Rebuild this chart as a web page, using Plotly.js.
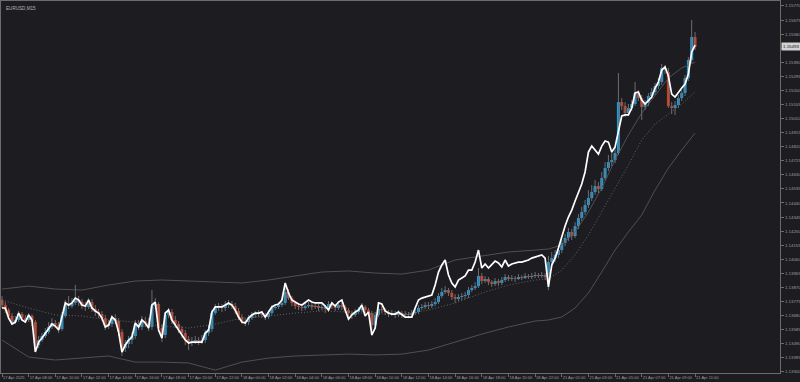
<!DOCTYPE html>
<html><head><meta charset="utf-8">
<script src="https://cdn.plot.ly/plotly-3.0.1.min.js"></script>
<style>html,body{margin:0;padding:0;background:#1c1c21;}#chart{width:800px;height:382px;}</style>
</head><body><div id="chart"></div>
<script>
const symbolTitle = "EURUSD,M15";
const tickPos = [0,8,16,24,32,40,48,56,64,72,80,88,96,104,112,120,128,136,144,152,160,168,176,184,192,200,208];
const tickLabels = ["17 Apr 2025","17 Apr 08:00","17 Apr 10:00","17 Apr 12:00","17 Apr 14:00","17 Apr 16:00","17 Apr 18:00","17 Apr 20:00","17 Apr 22:00","18 Apr 00:00","18 Apr 02:00","18 Apr 04:00","18 Apr 06:00","18 Apr 08:00","18 Apr 10:00","18 Apr 12:00","18 Apr 14:00","18 Apr 16:00","18 Apr 18:00","18 Apr 20:00","18 Apr 22:00","21 Apr 01:00","21 Apr 03:00","21 Apr 05:00","21 Apr 07:00","21 Apr 09:00","21 Apr 11:00"];
const priceTicks = [1.13300,1.13395,1.13490,1.13585,1.13680,1.13775,1.13870,1.13965,1.14060,1.14155,1.14250,1.14345,1.14440,1.14535,1.14630,1.14725,1.14820,1.14915,1.15010,1.15105,1.15200,1.15295,1.15390,1.15485,1.15580,1.15675,1.15770];

const barOpen = [
1.13785,1.13751,1.13717,1.13677,1.13636,1.13650,1.13690,1.13663,1.13650,1.13677,
1.13636,1.13481,1.13515,1.13542,1.13569,1.13603,1.13630,1.13616,1.13589,1.13677,
1.13751,1.13744,1.13765,1.13785,1.13771,1.13744,1.13738,1.13771,1.13724,1.13704,
1.13690,1.13663,1.13609,1.13623,1.13663,1.13643,1.13569,1.13461,1.13488,1.13515,
1.13542,1.13623,1.13603,1.13643,1.13630,1.13603,1.13744,1.13758,1.13596,1.13549,
1.13684,1.13704,1.13650,1.13623,1.13589,1.13562,1.13522,1.13501,1.13508,1.13515,
1.13508,1.13515,1.13562,1.13589,1.13697,1.13731,1.13738,1.13731,1.13751,1.13758,
1.13744,1.13711,1.13670,1.13643,1.13636,1.13663,1.13684,1.13690,1.13697,1.13684,
1.13670,1.13697,1.13731,1.13738,1.13751,1.13765,1.13839,1.13798,1.13765,1.13744,
1.13738,1.13731,1.13744,1.13751,1.13738,1.13744,1.13731,1.13738,1.13724,1.13758,
1.13744,1.13731,1.13751,1.13738,1.13717,1.13697,1.13684,1.13704,1.13717,1.13738,
1.13717,1.13697,1.13616,1.13684,1.13724,1.13717,1.13704,1.13690,1.13697,1.13684,
1.13697,1.13684,1.13690,1.13684,1.13697,1.13704,1.13731,1.13738,1.13751,1.13744,
1.13758,1.13771,1.13812,1.13839,1.13852,1.13832,1.13805,1.13792,1.13805,1.13812,
1.13819,1.13852,1.13866,1.13879,1.13947,1.13913,1.13927,1.13906,1.13893,1.13913,
1.13900,1.13920,1.13940,1.13927,1.13933,1.13927,1.13940,1.13933,1.13947,1.13940,
1.13947,1.13954,1.13947,1.13954,1.13954,1.14041,1.14068,1.14089,1.14122,1.14170,
1.14203,1.14244,1.14217,1.14284,1.14338,1.14379,1.14426,1.14473,1.14514,1.14554,
1.14534,1.14608,1.14676,1.14716,1.14730,1.14777,1.15121,1.15094,1.15047,1.15081,
1.15108,1.15182,1.15148,1.15088,1.15115,1.15162,1.15189,1.15229,1.15256,1.15351,
1.15324,1.15094,1.15081,1.15101,1.15148,1.15182,1.15283,1.15405,1.15560];

const barHigh = [
1.13812,1.13771,1.13731,1.13697,1.13677,1.13711,1.13704,1.13684,1.13697,1.13690,
1.13650,1.13542,1.13562,1.13596,1.13636,1.13663,1.13650,1.13636,1.13704,1.13785,
1.13812,1.13798,1.13886,1.13812,1.13792,1.13771,1.13798,1.13792,1.13751,1.13724,
1.13711,1.13684,1.13650,1.13684,1.13690,1.13663,1.13589,1.13515,1.13542,1.13569,
1.13650,1.13650,1.13677,1.13670,1.13663,1.13852,1.13798,1.13771,1.13623,1.13704,
1.13731,1.13724,1.13677,1.13643,1.13609,1.13582,1.13542,1.13535,1.13542,1.13535,
1.13549,1.13582,1.13616,1.13717,1.13758,1.13765,1.13758,1.13778,1.13785,1.13778,
1.13765,1.13731,1.13690,1.13663,1.13684,1.13704,1.13711,1.13717,1.13711,1.13697,
1.13717,1.13751,1.13758,1.13771,1.13792,1.13893,1.13859,1.13812,1.13778,1.13758,
1.13758,1.13765,1.13771,1.13765,1.13765,1.13758,1.13758,1.13751,1.13778,1.13771,
1.13758,1.13778,1.13771,1.13751,1.13731,1.13711,1.13724,1.13738,1.13765,1.13751,
1.13731,1.13711,1.13704,1.13751,1.13744,1.13731,1.13717,1.13717,1.13711,1.13717,
1.13711,1.13711,1.13704,1.13717,1.13724,1.13751,1.13758,1.13771,1.13771,1.13778,
1.13798,1.13832,1.13866,1.13879,1.13866,1.13852,1.13825,1.13825,1.13832,1.13839,
1.13873,1.13886,1.13906,1.14001,1.13967,1.13947,1.13940,1.13920,1.13933,1.13927,
1.13940,1.13960,1.13954,1.13954,1.13947,1.13960,1.13954,1.13967,1.13960,1.13967,
1.13974,1.13967,1.13974,1.13967,1.14082,1.14109,1.14122,1.14149,1.14190,1.14230,
1.14271,1.14264,1.14311,1.14365,1.14413,1.14460,1.14527,1.14561,1.14595,1.14581,
1.14649,1.14716,1.14764,1.14784,1.14818,1.15317,1.15148,1.15121,1.15108,1.15135,
1.15256,1.15202,1.15169,1.15135,1.15182,1.15216,1.15250,1.15283,1.15378,1.15371,
1.15351,1.15121,1.15128,1.15169,1.15202,1.15304,1.15425,1.15675,1.15594];

const barLow = [
1.13731,1.13697,1.13657,1.13616,1.13623,1.13636,1.13643,1.13630,1.13636,1.13609,
1.13434,1.13461,1.13501,1.13528,1.13555,1.13589,1.13596,1.13562,1.13576,1.13663,
1.13724,1.13731,1.13751,1.13744,1.13724,1.13711,1.13724,1.13704,1.13677,1.13663,
1.13643,1.13582,1.13589,1.13603,1.13623,1.13542,1.13407,1.13434,1.13461,1.13488,
1.13522,1.13582,1.13582,1.13603,1.13576,1.13582,1.13724,1.13569,1.13501,1.13528,
1.13663,1.13623,1.13596,1.13562,1.13528,1.13481,1.13447,1.13474,1.13488,1.13481,
1.13488,1.13495,1.13542,1.13569,1.13684,1.13711,1.13704,1.13711,1.13731,1.13724,
1.13690,1.13650,1.13623,1.13609,1.13616,1.13650,1.13663,1.13670,1.13663,1.13650,
1.13657,1.13684,1.13717,1.13724,1.13738,1.13751,1.13785,1.13744,1.13724,1.13717,
1.13711,1.13717,1.13731,1.13717,1.13724,1.13711,1.13717,1.13697,1.13711,1.13724,
1.13711,1.13717,1.13717,1.13697,1.13670,1.13657,1.13670,1.13690,1.13704,1.13690,
1.13677,1.13542,1.13596,1.13670,1.13697,1.13684,1.13670,1.13677,1.13663,1.13670,
1.13663,1.13670,1.13663,1.13670,1.13684,1.13690,1.13717,1.13724,1.13724,1.13731,
1.13744,1.13758,1.13798,1.13825,1.13812,1.13785,1.13765,1.13778,1.13785,1.13792,
1.13798,1.13839,1.13852,1.13866,1.13893,1.13900,1.13886,1.13873,1.13879,1.13879,
1.13886,1.13906,1.13913,1.13913,1.13906,1.13920,1.13920,1.13927,1.13927,1.13927,
1.13933,1.13933,1.13933,1.13920,1.13852,1.14014,1.14041,1.14068,1.14102,1.14149,
1.14183,1.14190,1.14203,1.14264,1.14318,1.14359,1.14406,1.14453,1.14494,1.14507,
1.14521,1.14595,1.14656,1.14689,1.14710,1.14764,1.15067,1.15020,1.15027,1.15061,
1.15094,1.15128,1.15000,1.15067,1.15094,1.15142,1.15169,1.15209,1.15236,1.15310,
1.15081,1.15040,1.15034,1.15081,1.15128,1.15162,1.15263,1.15385,1.15472];

const barClose = [
1.13751,1.13717,1.13677,1.13636,1.13650,1.13690,1.13663,1.13650,1.13677,1.13636,
1.13481,1.13515,1.13542,1.13569,1.13603,1.13630,1.13616,1.13589,1.13677,1.13751,
1.13744,1.13765,1.13785,1.13771,1.13744,1.13738,1.13771,1.13724,1.13704,1.13690,
1.13663,1.13609,1.13623,1.13663,1.13643,1.13569,1.13461,1.13488,1.13515,1.13542,
1.13623,1.13603,1.13643,1.13630,1.13603,1.13744,1.13758,1.13596,1.13549,1.13684,
1.13704,1.13650,1.13623,1.13589,1.13562,1.13522,1.13501,1.13508,1.13515,1.13508,
1.13515,1.13562,1.13589,1.13697,1.13731,1.13738,1.13731,1.13751,1.13758,1.13744,
1.13711,1.13670,1.13643,1.13636,1.13663,1.13684,1.13690,1.13697,1.13684,1.13670,
1.13697,1.13731,1.13738,1.13751,1.13765,1.13839,1.13798,1.13765,1.13744,1.13738,
1.13731,1.13744,1.13751,1.13738,1.13744,1.13731,1.13738,1.13724,1.13758,1.13744,
1.13731,1.13751,1.13738,1.13717,1.13697,1.13684,1.13704,1.13717,1.13738,1.13717,
1.13697,1.13616,1.13684,1.13724,1.13717,1.13704,1.13690,1.13697,1.13684,1.13697,
1.13684,1.13690,1.13684,1.13697,1.13704,1.13731,1.13738,1.13751,1.13744,1.13758,
1.13771,1.13812,1.13839,1.13852,1.13832,1.13805,1.13792,1.13805,1.13812,1.13819,
1.13852,1.13866,1.13879,1.13947,1.13913,1.13927,1.13906,1.13893,1.13913,1.13900,
1.13920,1.13940,1.13927,1.13933,1.13927,1.13940,1.13933,1.13947,1.13940,1.13947,
1.13954,1.13947,1.13954,1.13940,1.14041,1.14068,1.14089,1.14122,1.14170,1.14203,
1.14244,1.14217,1.14284,1.14338,1.14379,1.14426,1.14473,1.14514,1.14554,1.14534,
1.14608,1.14676,1.14716,1.14730,1.14777,1.15121,1.15094,1.15047,1.15081,1.15108,
1.15182,1.15148,1.15088,1.15115,1.15162,1.15189,1.15229,1.15256,1.15351,1.15337,
1.15094,1.15081,1.15101,1.15148,1.15182,1.15283,1.15405,1.15560,1.15493];

const whiteLine = [
1.13731,1.13731,1.13663,1.13623,1.13636,1.13697,1.13650,1.13636,1.13684,1.13650,
1.13434,1.13501,1.13528,1.13562,1.13596,1.13623,1.13609,1.13582,1.13670,1.13765,
1.13751,1.13765,1.13798,1.13785,1.13751,1.13744,1.13785,1.13731,1.13711,1.13697,
1.13663,1.13603,1.13616,1.13670,1.13650,1.13569,1.13434,1.13481,1.13515,1.13535,
1.13630,1.13603,1.13650,1.13630,1.13596,1.13751,1.13771,1.13582,1.13528,1.13697,
1.13717,1.13650,1.13616,1.13582,1.13555,1.13515,1.13495,1.13501,1.13501,1.13501,
1.13501,1.13562,1.13582,1.13704,1.13738,1.13738,1.13738,1.13751,1.13765,1.13751,
1.13717,1.13670,1.13636,1.13630,1.13663,1.13684,1.13697,1.13697,1.13704,1.13670,
1.13704,1.13738,1.13751,1.13758,1.13785,1.13900,1.13832,1.13785,1.13771,1.13758,
1.13751,1.13771,1.13785,1.13771,1.13765,1.13765,1.13765,1.13744,1.13717,1.13765,
1.13744,1.13771,1.13785,1.13717,1.13657,1.13684,1.13704,1.13717,1.13751,1.13677,
1.13704,1.13549,1.13596,1.13765,1.13758,1.13711,1.13697,1.13690,1.13690,1.13704,
1.13684,1.13670,1.13670,1.13670,1.13731,1.13785,1.13798,1.13805,1.13812,1.13819,
1.13886,1.13974,1.14021,1.14055,1.13954,1.13900,1.13873,1.13920,1.13933,1.13947,
1.13987,1.13987,1.14041,1.14122,1.14001,1.14028,1.14001,1.14028,1.14048,1.14035,
1.14008,1.14055,1.14014,1.14028,1.14035,1.14041,1.14041,1.14048,1.14055,1.14068,
1.14075,1.14082,1.14089,1.14068,1.13873,1.14021,1.14068,1.14136,1.14217,1.14284,
1.14345,1.14392,1.14453,1.14507,1.14568,1.14649,1.14784,1.14824,1.14797,1.14770,
1.14824,1.14858,1.14851,1.14784,1.14818,1.14932,1.15027,1.15034,1.15034,1.15081,
1.15182,1.15189,1.15135,1.15108,1.15135,1.15155,1.15216,1.15256,1.15337,1.15358,
1.15297,1.15175,1.15155,1.15189,1.15216,1.15243,1.15310,1.15459,1.15506];

const bandIdx = [0,8,16,24,32,40,48,56,64,72,80,88,96,104,112,120,128,136,144,152,160,164,168,172,176,180,184,188,192,196,200,204,208];
const upperBand = [1.13859,1.13879,1.13859,1.13852,1.13886,1.13913,1.13920,1.13913,1.13906,1.13900,1.13920,1.13947,1.13974,1.13981,1.13967,1.13960,1.13987,1.14055,1.14082,1.14109,1.14122,1.14129,1.14156,1.14244,1.14379,1.14541,1.14730,1.14899,1.15047,1.15169,1.15283,1.15351,1.15391];
const midBand = [1.13785,1.13731,1.13684,1.13677,1.13650,1.13636,1.13609,1.13596,1.13623,1.13663,1.13677,1.13697,1.13711,1.13704,1.13690,1.13690,1.13717,1.13765,1.13832,1.13886,1.13920,1.13927,1.13987,1.14089,1.14224,1.14379,1.14541,1.14696,1.14865,1.14973,1.15040,1.15108,1.15189];
const lowerBand = [1.13515,1.13400,1.13380,1.13393,1.13407,1.13366,1.13366,1.13360,1.13312,1.13366,1.13393,1.13407,1.13414,1.13420,1.13414,1.13420,1.13447,1.13501,1.13555,1.13603,1.13643,1.13650,1.13670,1.13731,1.13832,1.13974,1.14122,1.14244,1.14359,1.14527,1.14676,1.14797,1.14912];

const BG = '#1c1c21', AX = '#6b6b6b', TXT = '#9c9c9c';
const UP = '#1f9fe0', DN = '#d43b22';

const idx = barClose.map((_, i) => i);
const bodyBase = barClose.map((c, i) => Math.min(c, barOpen[i]));
const bodyH = barClose.map((c, i) => Math.max(Math.abs(c - barOpen[i]), 0.000008));
const bodyCol = barClose.map((c, i) => c >= barOpen[i] ? UP : DN);
const wickX = [], wickY = [];
idx.forEach(i => { wickX.push(i, i, null); wickY.push(barLow[i], barHigh[i], null); });

const lastClose = barClose[barClose.length - 1];
// the current-price box covers the tick label it sits on, as in the terminal
const yTickText = priceTicks.map(v => Math.abs(v - lastClose) < 0.0003 ? '' : v.toFixed(5));

const traces = [
  {type:'scatter', mode:'lines', x:bandIdx, y:upperBand, line:{color:'#4f4f54', width:1}, hoverinfo:'skip'},
  {type:'scatter', mode:'lines', x:bandIdx, y:lowerBand, line:{color:'#4f4f54', width:1}, hoverinfo:'skip'},
  {type:'scatter', mode:'lines', x:bandIdx, y:midBand, line:{color:'#6a6a6e', width:0.9, dash:'1px,2px'}, hoverinfo:'skip'},
  {type:'scatter', mode:'lines', x:wickX, y:wickY, line:{color:'#6e6e6e', width:1}, hoverinfo:'skip', connectgaps:false},
  {type:'bar', x:idx, y:bodyH, base:bodyBase, width:0.9, marker:{color:bodyCol, line:{width:0}}, hoverinfo:'skip'},
  {type:'scatter', mode:'lines', x:idx, y:whiteLine, line:{color:'#ffffff', width:1.7}, hoverinfo:'skip'}
];

const layout = {
  width:800, height:382,
  margin:{l:1, r:20, t:1, b:9, pad:0},
  paper_bgcolor:BG, plot_bgcolor:BG,
  showlegend:false,
  font:{family:'Liberation Sans, Arial, sans-serif', color:TXT},
  xaxis:{range:[-0.3, 233.5], tickvals:tickPos, ticktext:tickLabels, ticks:'outside', ticklen:3, tickcolor:AX,
         showgrid:false, zeroline:false, showline:true, linecolor:AX, linewidth:1, mirror:true,
         ticklabelposition:'outside right', tickfont:{size:4, color:TXT}, tickangle:0},
  yaxis:{side:'right', range:[1.132923, 1.158033], tickvals:priceTicks, ticktext:yTickText,
         ticks:'outside', ticklen:3, tickcolor:AX, showgrid:false, zeroline:false, showline:true, linecolor:AX,
         linewidth:1, mirror:true, tickfont:{size:4.4, color:TXT}},
  annotations:[
    {xref:'paper', yref:'paper', x:0, y:1, xanchor:'left', yanchor:'top', xshift:3, yshift:-3, showarrow:false,
     text:symbolTitle, font:{size:4.6, color:'#b4b4b4'}},
    {xref:'paper', yref:'y', x:1, y:lastClose, xanchor:'left', yanchor:'middle', xshift:1, showarrow:false,
     text:lastClose.toFixed(5), bgcolor:'#d2d2d2', borderpad:1, font:{size:4.4, color:'#111111'}}
  ]
};
Plotly.newPlot('chart', traces, layout, {staticPlot:true, displayModeBar:false});
</script></body></html>
